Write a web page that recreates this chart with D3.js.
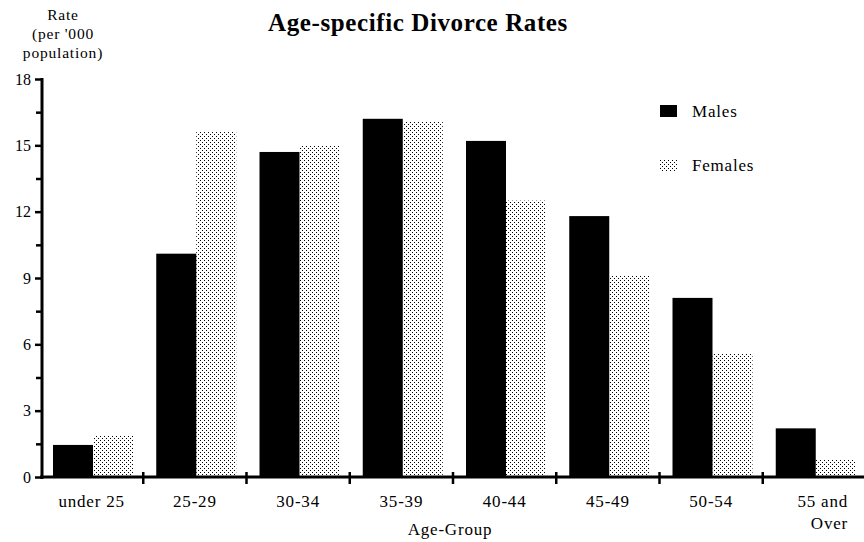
<!DOCTYPE html>
<html>
<head>
<meta charset="utf-8">
<script src="https://cdn.jsdelivr.net/npm/d3@7"></script>
<style>
  html, body { margin: 0; padding: 0; background: #fff; }
  svg { display: block; }
  text { font-family: "Liberation Serif", "Times New Roman", serif; fill: #000; }
</style>
</head>
<body>
<svg id="chart" width="864" height="542"></svg>
<script>
const categories = ["under 25", "25-29", "30-34", "35-39", "40-44", "45-49", "50-54", "55 and Over"];
const series = ["Males", "Females"];
const males   = [1.45, 10.1, 14.7, 16.2, 15.2, 11.8, 8.1, 2.2];
const females = [1.9, 15.6, 15.0, 16.1, 12.5, 9.1, 5.6, 0.8];
const yTicks = [0, 3, 6, 9, 12, 15, 18];
const yMinorTicks = [1.5, 4.5, 7.5, 10.5, 13.5, 16.5];

const svg = d3.select("#chart");

// pattern for females (stipple)
const defs = svg.append("defs");
const pat = defs.append("pattern")
  .attr("id", "stipple").attr("patternUnits", "userSpaceOnUse")
  .attr("width", 4).attr("height", 4);
pat.append("rect").attr("x", 0).attr("y", 0).attr("width", 1).attr("height", 1).attr("fill", "#000");
pat.append("rect").attr("x", 2).attr("y", 2).attr("width", 1).attr("height", 1).attr("fill", "#000");

const x0 = d3.scaleBand().domain(categories).range([40, 866]).paddingInner(0).paddingOuter(0);
const x1 = d3.scaleBand().domain(series).range([13, 93]);
const y = d3.scaleLinear().domain([0, 18]).range([477, 79]);

const fills = { Males: "#000", Females: "url(#stipple)" };
const rows = categories.map((c, i) => ({ c, Males: males[i], Females: females[i] }));

// bars
const g = svg.append("g");
rows.forEach(r => {
  series.forEach(s => {
    g.append("rect")
      .attr("x", x0(r.c) + x1(s))
      .attr("y", y(r[s]))
      .attr("width", x1.bandwidth())
      .attr("height", y(0) - y(r[s]))
      .attr("fill", fills[s]);
  });
});

// y axis
const yAxis = d3.axisLeft(y).tickValues(yTicks).tickSize(7).tickPadding(4).tickFormat(d3.format("d"));
const yg = svg.append("g").attr("transform", "translate(42,0)").call(yAxis);
yg.select(".domain").remove();
yg.selectAll(".tick line").attr("stroke", "#000").attr("stroke-width", 2.5);
yg.selectAll(".tick text").style("font-size", "16px");
const yMinor = d3.axisLeft(y).tickValues(yMinorTicks).tickSize(6).tickFormat("");
const ym = svg.append("g").attr("transform", "translate(42,0)").call(yMinor);
ym.select(".domain").remove();
ym.selectAll(".tick line").attr("stroke", "#000").attr("stroke-width", 2.5);
svg.append("line").attr("x1", 42).attr("x2", 42).attr("y1", y(18) - 1).attr("y2", y(0) + 2)
  .attr("stroke", "#000").attr("stroke-width", 3);

// x axis
svg.append("line").attr("x1", 40).attr("x2", 864).attr("y1", y(0)).attr("y2", y(0))
  .attr("stroke", "#000").attr("stroke-width", 3);
const boundaries = categories.slice(1).map(c => x0(c));
svg.append("g").selectAll("line").data(boundaries).join("line")
  .attr("x1", d => d).attr("x2", d => d)
  .attr("y1", y(0) - 5).attr("y2", y(0) + 7)
  .attr("stroke", "#000").attr("stroke-width", 2.5);

// x labels
const xl = svg.append("g");
categories.forEach((c, i) => {
  if (c === "55 and Over") {
    const t = xl.append("text").attr("text-anchor", "end")
      .style("font-size", "17px").style("letter-spacing", "0.8px");
    t.append("tspan").attr("x", 848).attr("y", 507).text("55 and");
    t.append("tspan").attr("x", 848).attr("y", 529).text("Over");
  } else {
    xl.append("text").attr("x", x0(c) + x0.bandwidth() / 2).attr("y", 507)
      .attr("text-anchor", "middle").style("font-size", "17px").style("letter-spacing", "0.8px")
      .text(c);
  }
});

// axis titles
svg.append("text").attr("x", 450).attr("y", 535).attr("text-anchor", "middle")
  .style("font-size", "17px").style("letter-spacing", "0.8px").text("Age-Group");
const ytLines = ["Rate", "(per '000", "population)"];
const ytBase = [20, 39, 58];
ytLines.forEach((l, i) => {
  svg.append("text").attr("x", 63).attr("y", ytBase[i]).attr("text-anchor", "middle")
    .style("font-size", "15.5px").style("letter-spacing", "0.8px").text(l);
});

// title
svg.append("text").attr("x", 418).attr("y", 31).attr("text-anchor", "middle")
  .style("font-size", "25px").style("font-weight", "bold").style("letter-spacing", "0.6px")
  .text("Age-specific Divorce Rates");

// legend
const legend = svg.append("g");
series.forEach((s, i) => {
  const ly = 105 + i * 54;
  legend.append("rect").attr("x", 660).attr("y", ly).attr("width", 17).attr("height", 12)
    .attr("fill", fills[s]);
  legend.append("text").attr("x", 692).attr("y", ly + 12)
    .style("font-size", "17px").style("letter-spacing", "0.8px").text(s);
});
</script>
</body>
</html>
